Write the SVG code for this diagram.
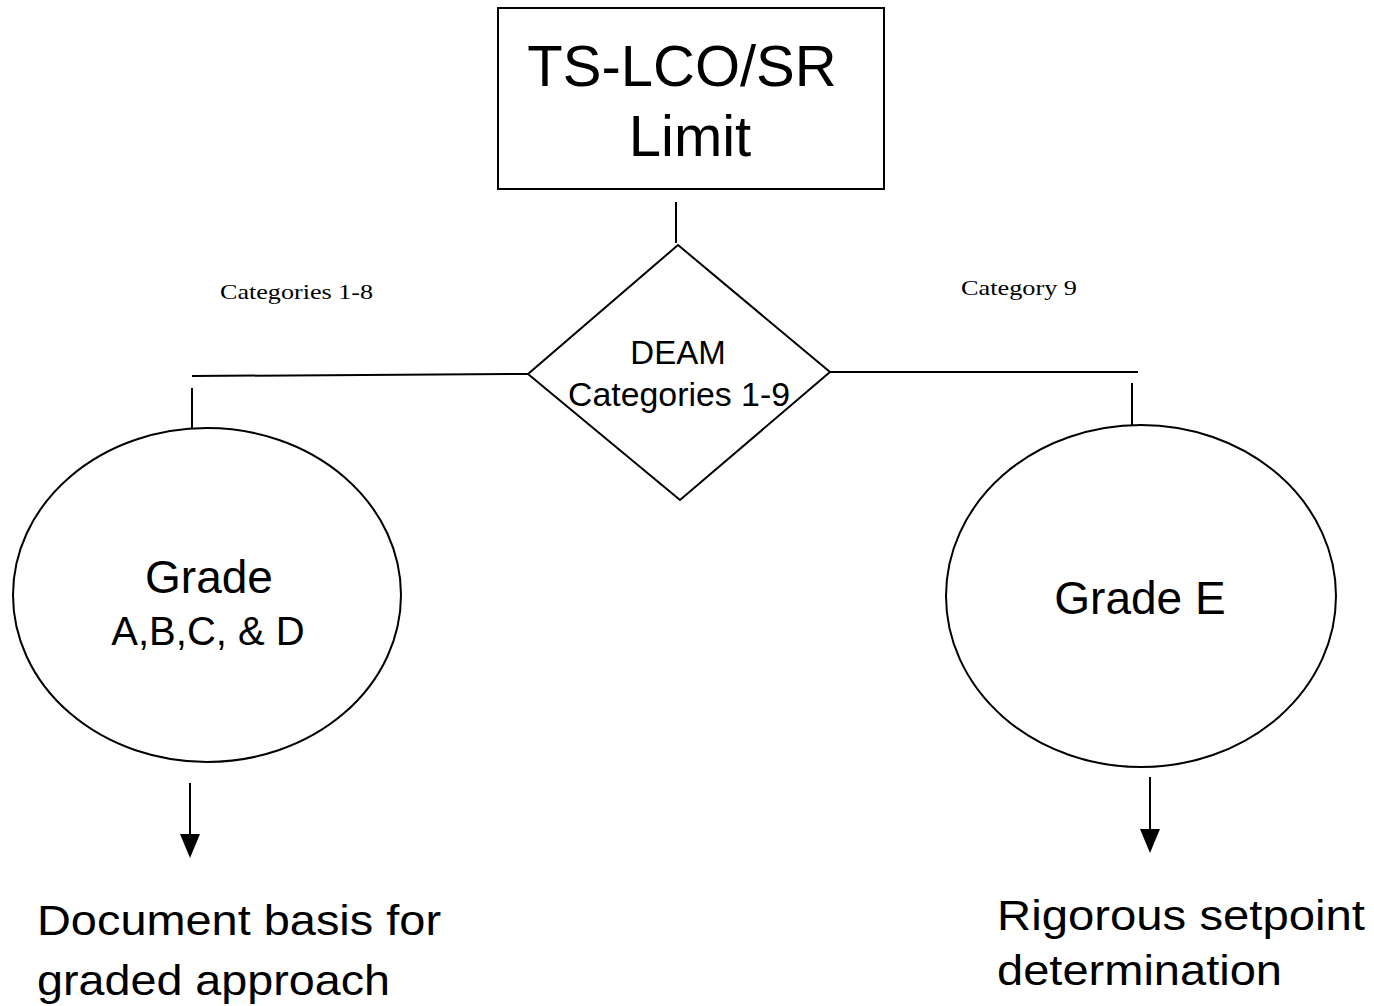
<svg xmlns="http://www.w3.org/2000/svg" width="1374" height="1006" viewBox="0 0 1374 1006">
<style>
.s{fill:none;stroke:#000;stroke-width:2}
.a{font-family:"Liberation Sans",Arial,sans-serif;fill:#000;text-anchor:middle}
.t{font-family:"Liberation Serif","Times New Roman",serif;fill:#000}
.b{font-family:"Liberation Sans",Arial,sans-serif;fill:#000;font-size:43px}
</style>
<rect width="1374" height="1006" fill="#fff"/>
<g id="connectors">
<line class="s" x1="676" y1="202" x2="676" y2="243"/>
<line class="s" x1="192" y1="376" x2="528" y2="374"/>
<line class="s" x1="192" y1="388" x2="192" y2="428"/>
<line class="s" x1="830" y1="372" x2="1138" y2="372"/>
<line class="s" x1="1132" y1="383" x2="1132" y2="425"/>
<line class="s" x1="190" y1="783" x2="190" y2="835"/>
<path d="M180,834 L200,834 L190,858 Z" fill="#000"/>
<line class="s" x1="1150" y1="777" x2="1150" y2="830"/>
<path d="M1140,829 L1160,829 L1150,853 Z" fill="#000"/>
<text class="t" x="220" y="299" font-size="22" textLength="153" lengthAdjust="spacingAndGlyphs">Categories 1-8</text>
<text class="t" x="961" y="295" font-size="22" textLength="116" lengthAdjust="spacingAndGlyphs">Category 9</text>
</g>
<g id="limit">
<rect class="s" x="498" y="8" width="386" height="181"/>
<text class="a" x="682" y="86" font-size="58">TS-LCO/SR</text>
<text class="a" x="690" y="156" font-size="58">Limit</text>
</g>
<g id="deam">
<path class="s" d="M678,245 L830,372 L680,500 L528,374 Z"/>
<text class="a" x="678" y="364" font-size="33">DEAM</text>
<text class="a" x="679" y="406" font-size="33" textLength="222" lengthAdjust="spacingAndGlyphs">Categories 1-9</text>
</g>
<g id="gradeABCD">
<ellipse class="s" cx="207" cy="595" rx="194" ry="167"/>
<text class="a" x="209" y="593" font-size="46">Grade</text>
<text class="a" x="208" y="645" font-size="40">A,B,C, &amp; D</text>
</g>
<g id="gradeE">
<ellipse class="s" cx="1141" cy="596" rx="195" ry="171"/>
<text class="a" x="1140" y="614" font-size="46">Grade E</text>
</g>
<g id="document">
<text class="b" x="37" y="935" textLength="404" lengthAdjust="spacingAndGlyphs">Document basis for</text>
<text class="b" x="37" y="995" textLength="353" lengthAdjust="spacingAndGlyphs">graded approach</text>
</g>
<g id="rigorous">
<text class="b" x="997" y="930" textLength="368" lengthAdjust="spacingAndGlyphs">Rigorous setpoint</text>
<text class="b" x="997" y="985" textLength="285" lengthAdjust="spacingAndGlyphs">determination</text>
</g>
</svg>
